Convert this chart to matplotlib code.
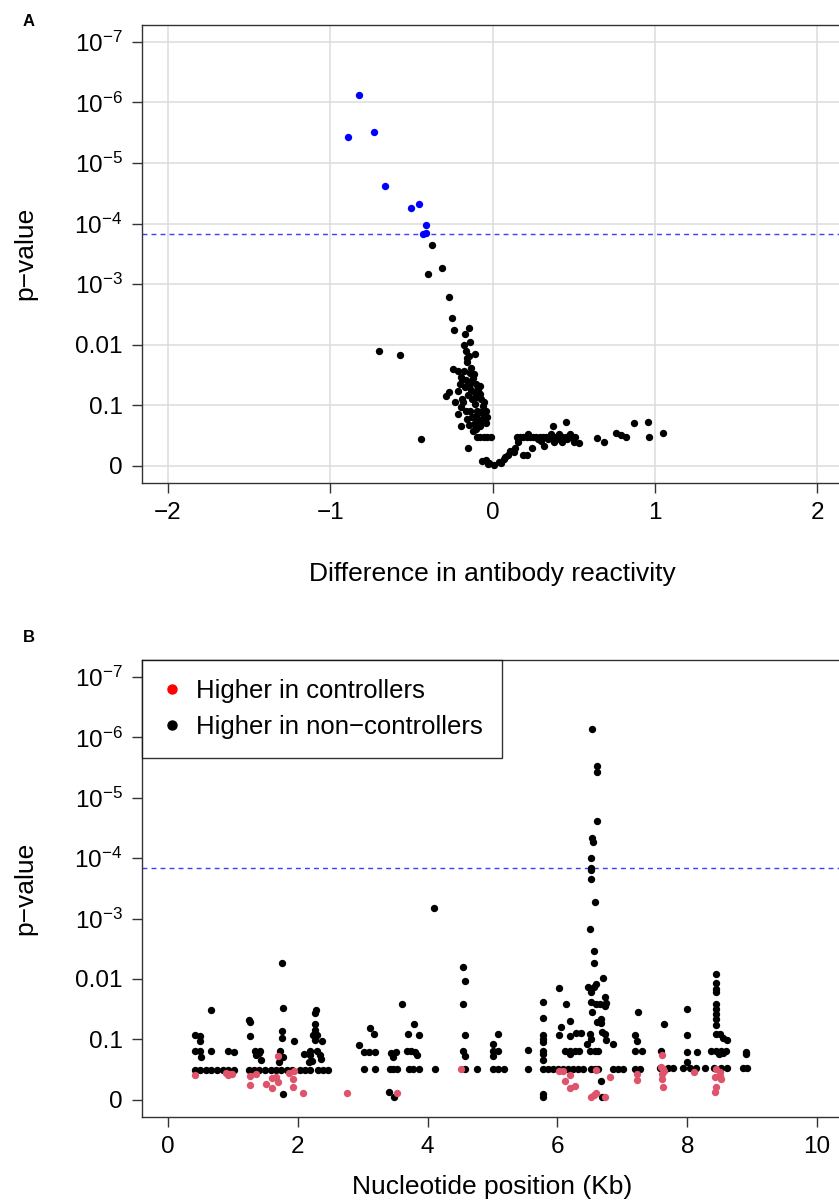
import matplotlib
matplotlib.use('Agg')
import matplotlib.pyplot as plt
from matplotlib.lines import Line2D

plt.rcParams['font.family'] = ['Liberation Sans', 'DejaVu Sans']
plt.rcParams['mathtext.fontset'] = 'custom'
plt.rcParams['mathtext.rm'] = 'Liberation Sans'
plt.rcParams['mathtext.it'] = 'Liberation Sans:italic'

# y axis is -log10(p); tick labels as printed on the chart
y_ticks = [0, 1, 2, 3, 4, 5, 6, 7]
y_labels = ['0', '0.1', '0.01', r'$\mathregular{10^{-3}}$', r'$\mathregular{10^{-4}}$',
            r'$\mathregular{10^{-5}}$', r'$\mathregular{10^{-6}}$', r'$\mathregular{10^{-7}}$']
threshold = 3.83

# Panel A: difference in antibody reactivity vs -log10(p)
a_sig_x = [-0.89, -0.82, -0.73, -0.665, -0.50, -0.45, -0.41, -0.43, -0.41]
a_sig_y = [5.43, 6.13, 5.52, 4.62, 4.25, 4.32, 3.98, 3.82, 3.84]

a_x = [-0.37, -0.40, -0.31, -0.27, -0.25, -0.236, -0.146, -0.17, -0.136, -0.70, -0.57, -0.44, -0.15,
       -0.177, -0.162, -0.146, -0.105, -0.156, -0.242, -0.214, -0.177, -0.136, -0.111, -0.197, -0.166,
       -0.136, -0.185, -0.146, -0.078, -0.09, -0.27, -0.285, -0.214, -0.234, -0.18, -0.125, -0.099,
       -0.074, -0.054, -0.105, -0.197, -0.166, -0.136, -0.094, -0.043, -0.125, -0.094, -0.063, -0.033,
       -0.115, -0.074, -0.197, -0.146, -0.094, -0.074, -0.054, -0.033, -0.012,
       -0.16, -0.13, -0.12, -0.10, -0.09, -0.07, -0.06, -0.08, -0.05, -0.10, -0.07, -0.04, -0.11,
       -0.13, -0.15, -0.17, -0.20, -0.19, -0.21, -0.16, -0.12, -0.10,
       -0.064, -0.043, -0.029, -0.023, 0.008, 0.04, 0.05, 0.07, 0.08, 0.094, 0.11, 0.13, 0.14, 0.16,
       0.156, 0.19, 0.21, 0.245, 0.30, 0.316, 0.34, 0.378, 0.41, 0.43, 0.46, 0.50, 0.53,
       0.15, 0.17, 0.19, 0.21, 0.23, 0.25, 0.27, 0.29, 0.31, 0.33, 0.35, 0.37, 0.39, 0.41, 0.43,
       0.45, 0.47, 0.49, 0.51, 0.22, 0.28, 0.36, 0.40, 0.48, 0.37, 0.454,
       0.645, 0.69, 0.764, 0.79, 0.82, 0.87, 0.96, 0.965, 1.05]
a_y = [3.65, 3.16, 3.26, 2.79, 2.44, 2.24, 2.28, 2.17, 2.05, 1.89, 1.83, 0.45, 0.29,
       1.99, 1.90, 1.82, 1.84, 1.71, 1.60, 1.57, 1.57, 1.54, 1.52, 1.46, 1.42,
       1.38, 1.43, 1.32, 1.31, 1.24, 1.22, 1.16, 1.24, 1.06, 1.06, 1.10, 1.13,
       1.19, 1.06, 1.02, 0.97, 0.91, 0.91, 0.91, 0.91, 0.80, 0.74, 0.77, 0.80,
       0.69, 0.66, 0.65, 0.67, 0.48, 0.48, 0.48, 0.48, 0.48,
       1.78, 1.62, 1.45, 1.35, 1.28, 1.10, 0.98, 0.88, 0.84, 0.82, 0.72, 0.70, 1.20,
       1.25, 1.17, 1.30, 1.35, 1.10, 0.85, 0.78, 0.58, 0.60,
       0.08, 0.09, 0.03, 0.05, 0.02, 0.07, 0.05, 0.11, 0.14, 0.17, 0.25, 0.22, 0.30, 0.39,
       0.44, 0.18, 0.17, 0.30, 0.41, 0.33, 0.44, 0.39, 0.52, 0.39, 0.44, 0.39, 0.37,
       0.48, 0.48, 0.48, 0.48, 0.48, 0.48, 0.48, 0.48, 0.48, 0.48, 0.48, 0.48, 0.48, 0.48, 0.48,
       0.48, 0.48, 0.48, 0.48, 0.52, 0.44, 0.52, 0.45, 0.53, 0.66, 0.72,
       0.46, 0.39, 0.54, 0.50, 0.48, 0.71, 0.73, 0.47, 0.54]

# Panel B: nucleotide position (Kb) vs -log10(p)
b_black_x = [0.42, 0.50, 0.59, 0.67, 0.76, 0.85, 0.93, 1.01,
             0.42, 0.50, 0.50, 0.42, 0.50, 0.51, 0.67, 0.67, 0.93, 1.01,
             1.25, 1.33, 1.41, 1.49, 1.58, 1.66, 1.74, 1.83, 1.91,
             1.25, 1.26, 1.27, 1.34, 1.35, 1.42, 1.44, 1.40, 1.76, 1.77, 1.76, 1.75, 1.72, 1.71, 1.77,
             1.94, 1.78,
             2.03, 2.11, 2.19, 2.31, 2.39, 2.47,
             2.28, 2.27, 2.27, 2.27, 2.24, 2.29, 2.26, 2.37, 2.09, 2.19, 2.19, 2.18, 2.22, 2.30, 2.34,
             2.36,
             2.94, 3.02, 3.10, 3.19, 3.11, 3.17, 3.02, 3.19,
             3.42, 3.47, 3.53, 3.44, 3.51, 3.46, 3.41, 3.49,
             3.60, 3.70, 3.79, 3.86, 3.69, 3.75, 3.80, 3.84, 3.71, 3.78, 3.86,
             4.10, 4.11, 4.54, 4.57, 4.55, 4.58, 4.54, 4.58, 4.58, 4.76,
             5.01, 5.01, 5.01, 5.08, 5.08, 5.01, 5.08, 5.18, 5.55, 5.55,
             5.78, 5.78, 5.78, 5.78, 5.78, 5.78, 5.78, 5.78, 5.78, 5.78,
             5.78, 5.86, 5.93, 6.01, 6.09, 6.16, 6.24, 6.32, 6.39,
             6.02, 6.14, 6.06, 6.20, 6.02, 6.20, 6.28, 6.37, 6.11, 6.19, 6.27, 6.34, 6.20,
             6.54, 6.61, 6.61, 6.61, 6.54, 6.55, 6.51, 6.51, 6.51, 6.51, 6.58, 6.50, 6.56, 6.56, 6.71,
             6.47, 6.60, 6.57, 6.51, 6.73, 6.75, 6.73, 6.52, 6.60, 6.65, 6.53, 6.61, 6.67, 6.67, 6.68,
             6.74, 6.75, 6.50, 6.52, 6.46, 6.85, 6.50, 6.58, 6.62, 6.51, 6.58, 6.62, 6.67, 6.68,
             6.85, 6.93, 7.01, 7.19, 7.27,
             7.20, 7.23, 7.24, 7.19, 7.31, 7.64, 7.60, 7.58, 7.70, 7.78,
             7.99, 8.00, 7.99, 8.15, 7.99, 7.94, 8.04, 8.14, 8.27,
             8.44, 8.44, 8.44, 8.44, 8.44, 8.44, 8.44, 8.44, 8.44, 8.44, 8.50, 8.55, 8.61,
             8.37, 8.45, 8.52, 8.60, 8.49, 8.55, 8.42, 8.52, 8.62,
             8.91, 8.90, 8.86, 8.92]
b_black_y = [0.50, 0.50, 0.50, 0.50, 0.50, 0.50, 0.50, 0.50,
             1.07, 1.05, 0.97, 0.81, 0.81, 0.70, 1.49, 0.80, 0.80, 0.79,
             0.50, 0.50, 0.50, 0.50, 0.50, 0.50, 0.50, 0.50, 0.50,
             1.32, 1.28, 1.05, 0.80, 0.74, 0.81, 0.66, 0.77, 2.27, 1.52, 1.14, 1.03, 0.80, 0.63, 0.70,
             0.98, 0.09,
             0.50, 0.50, 0.50, 0.50, 0.50, 0.50,
             1.49, 1.43, 1.25, 1.16, 1.07, 1.07, 0.99, 0.97, 0.75, 0.80, 0.74, 0.62, 0.65, 0.80, 0.74,
             0.68,
             0.90, 0.79, 0.79, 0.79, 1.19, 1.09, 0.51, 0.51,
             0.51, 0.51, 0.51, 0.77, 0.79, 0.71, 0.13, 0.05,
             1.58, 1.09, 1.25, 1.07, 0.81, 0.80, 0.79, 0.74, 0.51, 0.51, 0.51,
             3.18, 0.51, 2.20, 1.96, 1.58, 1.07, 0.81, 0.72, 0.51, 0.51,
             0.92, 0.81, 0.72, 1.09, 0.81, 0.51, 0.51, 0.51, 0.82, 0.51,
             1.62, 1.35, 1.07, 1.00, 0.95, 0.81, 0.76, 0.66, 0.10, 0.05,
             0.51, 0.51, 0.51, 0.51, 0.51, 0.51, 0.51, 0.51, 0.51,
             1.85, 1.59, 1.21, 1.30, 1.08, 1.06, 1.10, 1.10, 0.81, 0.81, 0.81, 0.81, 0.76,
             6.13, 5.53, 5.43, 4.62, 4.33, 4.26, 4.00, 3.84, 3.81, 3.66, 3.27, 2.82, 2.46, 2.26, 2.01,
             1.87, 1.91, 1.86, 1.78, 1.70, 1.61, 1.55, 1.62, 1.59, 1.59, 1.45, 1.29, 1.34, 1.27, 1.13,
             1.09, 0.99, 1.09, 1.00, 0.92, 0.92, 0.81, 0.81, 0.81, 0.51, 0.51, 0.51, 0.31, 0.04,
             0.51, 0.51, 0.51, 0.51, 0.51,
             1.07, 0.98, 1.45, 0.81, 0.81, 1.25, 0.81, 0.52, 0.52, 0.52,
             1.50, 1.07, 0.79, 0.79, 0.63, 0.52, 0.52, 0.52, 0.52,
             2.08, 1.94, 1.83, 1.78, 1.58, 1.50, 1.42, 1.34, 1.24, 1.09, 1.09, 1.03, 0.99,
             0.81, 0.81, 0.81, 0.81, 0.75, 0.77, 0.52, 0.52, 0.52,
             0.79, 0.75, 0.52, 0.52]

b_red_x = [0.42, 0.90, 0.93, 0.96, 0.99,
           1.26, 1.26, 1.35, 1.51, 1.60, 1.61, 1.67, 1.69, 1.70, 1.87, 1.94, 1.93, 1.92, 2.08,
           2.76, 3.53, 4.52,
           6.02, 6.08, 6.11, 6.20, 6.19, 6.27, 6.60, 6.51, 6.56, 6.60, 6.74, 6.81,
           7.22, 7.22,
           7.61, 7.59, 7.62, 7.61, 7.61, 7.62, 7.64,
           8.10,
           8.44, 8.50, 8.43, 8.52, 8.44, 8.43, 8.50]
b_red_y = [0.41, 0.44, 0.41, 0.42, 0.43,
           0.39, 0.25, 0.43, 0.26, 0.19, 0.36, 0.37, 0.30, 0.73, 0.44, 0.47, 0.35, 0.21, 0.11,
           0.11, 0.12, 0.51,
           0.48, 0.47, 0.31, 0.41, 0.19, 0.22, 0.49, 0.05, 0.08, 0.11, 0.05, 0.38,
           0.43, 0.33,
           0.74, 0.55, 0.51, 0.43, 0.34, 0.21, 0.47,
           0.46,
           0.51, 0.46, 0.37, 0.34, 0.21, 0.13, 0.40]

FS = 17.5
DOT = 28
SPINE = '#333333'


def style_axes(ax, xticks, xlabels, xlim):
    ax.set_xlim(*xlim)
    ax.set_ylim(-0.28, 7.28)
    ax.set_yticks(y_ticks)
    ax.set_yticklabels(y_labels)
    ax.set_xticks(xticks)
    ax.set_xticklabels(xlabels)
    ax.tick_params(axis='both', direction='out', length=7, width=1, color=SPINE,
                   labelsize=FS, pad=7)
    ax.spines['right'].set_visible(False)
    for s in ('left', 'bottom', 'top'):
        ax.spines[s].set_color(SPINE)
        ax.spines[s].set_linewidth(1)
    ax.set_ylabel('p\u2212value', fontsize=19, labelpad=27)
    ax.axhline(threshold, color='#3d3dff', lw=1, dashes=(3.5, 3), zorder=1)


fig = plt.figure(figsize=(8.39, 12), dpi=100)
L, W = 142 / 839, 701 / 839

# panel A
axA = fig.add_axes([L, 1 - 482.7 / 1200, W, 457.7 / 1200])
style_axes(axA, [-2, -1, 0, 1, 2], ['\u22122', '\u22121', '0', '1', '2'], (-2.16, 2.16))
axA.grid(True, color='#dcdcdc', lw=1.1, zorder=0)
axA.set_axisbelow(True)
axA.scatter(a_x, a_y, s=DOT, color='black', lw=0, zorder=3)
axA.scatter(a_sig_x, a_sig_y, s=DOT, color='#0000ff', lw=0, zorder=3)
axA.set_xlabel('Difference in antibody reactivity', fontsize=19, labelpad=27)

# panel B
axB = fig.add_axes([L, 1 - 1116.7 / 1200, W, 456.7 / 1200])
style_axes(axB, [0, 2, 4, 6, 8, 10], ['0', '2', '4', '6', '8', '10'], (-0.4, 10.4))
axB.scatter(b_black_x, b_black_y, s=DOT, color='black', lw=0, zorder=3)
axB.scatter(b_red_x, b_red_y, s=DOT, color='#df536b', lw=0, zorder=4)
axB.set_xlabel('Nucleotide position (Kb)', fontsize=19, labelpad=12)

handles = [Line2D([], [], ls='', marker='o', ms=6.5, color='red'),
           Line2D([], [], ls='', marker='o', ms=6.5, color='black')]
leg = axB.legend(handles, ['Higher in controllers', 'Higher in non\u2212controllers'],
                 loc='upper left', bbox_to_anchor=(0, 1), borderaxespad=0, fontsize=18.5,
                 frameon=True, fancybox=False, edgecolor='black', borderpad=0.75,
                 handletextpad=0.55, handlelength=0.8, labelspacing=0.45)
leg.get_frame().set_linewidth(1)

fig.text(29 / 839, 1 - 21 / 1200, 'A', fontsize=12, fontweight='bold', ha='center', va='center')
fig.text(29 / 839, 1 - 637 / 1200, 'B', fontsize=12, fontweight='bold', ha='center', va='center')

fig.savefig('out.png', dpi=100)
